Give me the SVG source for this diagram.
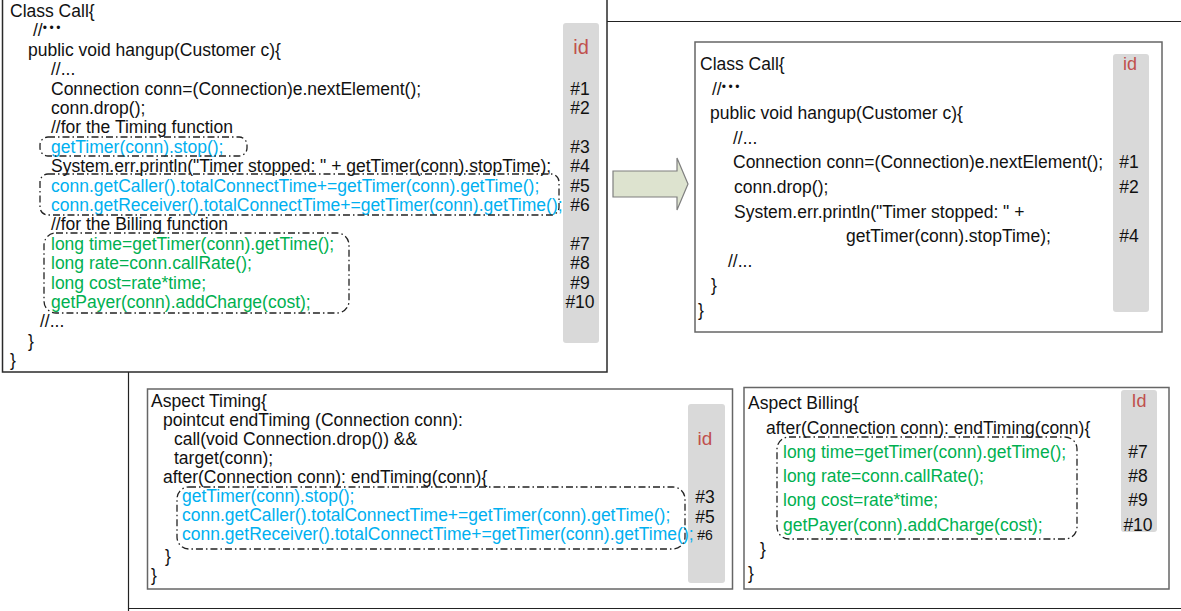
<svg xmlns="http://www.w3.org/2000/svg" width="1181" height="611" viewBox="0 0 1181 611">
  <style>
    text { font-family: "Liberation Sans", Arial, sans-serif; font-size: 17.5px; fill: #111; }
    .blue { fill: #00b0f0; }
    .green { fill: #00b050; }
    .num { text-anchor: middle; }
    .idlbl { fill: #c0504d; text-anchor: middle; }
    .idcol { fill: #d9d9d9; }
    .dots { font-size: 12px; letter-spacing: 2.5px; }
    .frame { fill: none; stroke: #222; stroke-width: 1.2; }
    .box { fill: #fff; stroke: #666; stroke-width: 1.5; }
    .mainbox { fill: #fff; stroke: #2a2a2a; stroke-width: 1.5; }
    .group { fill: none; stroke: #222; stroke-width: 1.3; stroke-dasharray: 7 3 1.5 3; }
  </style>

  <rect width="1181" height="611" fill="#fff"/>

  <!-- frame lines around the panels -->
  <g id="frame">
    <line class="frame" x1="607" y1="21.5" x2="1181" y2="21.5"/>
    <line class="frame" x1="128.5" y1="372" x2="128.5" y2="611"/>
    <line class="frame" x1="128" y1="608.5" x2="1181" y2="608.5"/>
  </g>

  <!-- original Call class with scattered concerns -->
  <g id="call-original">
    <rect class="mainbox" x="2.5" y="-2" width="604.5" height="374"/>
    <rect class="idcol" x="563" y="23" width="36" height="320" rx="3"/>
    <text class="idlbl" x="581" y="54" style="font-size:20px">id</text>
    <text x="10" y="17">Class Call{</text>
    <text x="33" y="36.4">//<tspan class="dots" dy="-4">•••</tspan></text>
    <text x="28" y="55.8">public void hangup(Customer c){</text>
    <text x="51" y="75.2">//...</text>
    <text x="51" y="94.6">Connection conn=(Connection)e.nextElement();</text>
    <text x="51" y="114">conn.drop();</text>
    <text x="51" y="133.4">//for the Timing function</text>
    <text class="blue" x="51" y="152.8">getTimer(conn).stop();</text>
    <text x="51" y="172.2">System.err.println("Timer stopped: " + getTimer(conn).stopTime);</text>
    <text class="blue" x="51" y="191.6">conn.getCaller().totalConnectTime+=getTimer(conn).getTime();</text>
    <text class="blue" x="51" y="211">conn.getReceiver().totalConnectTime+=getTimer(conn).getTime();</text>
    <text x="51" y="230.4">//for the Billing function</text>
    <text class="green" x="51" y="249.8">long time=getTimer(conn).getTime();</text>
    <text class="green" x="51" y="269.2">long rate=conn.callRate();</text>
    <text class="green" x="51" y="288.6">long cost=rate*time;</text>
    <text class="green" x="51" y="308">getPayer(conn).addCharge(cost);</text>
    <text x="40" y="327.4">//...</text>
    <text x="28" y="346.8">}</text>
    <text x="10" y="366.2">}</text>
    <text class="num" x="580" y="94.6">#1</text>
    <text class="num" x="580" y="114">#2</text>
    <text class="num" x="580" y="152.8">#3</text>
    <text class="num" x="580" y="172.2">#4</text>
    <text class="num" x="580" y="191.6">#5</text>
    <text class="num" x="580" y="211">#6</text>
    <text class="num" x="580" y="249.8">#7</text>
    <text class="num" x="580" y="269.2">#8</text>
    <text class="num" x="580" y="288.6">#9</text>
    <text class="num" x="580" y="308">#10</text>
    <rect class="group" x="40" y="137" width="207" height="19" rx="8"/>
    <rect class="group" x="40" y="174" width="519" height="41" rx="8"/>
    <rect class="group" x="44" y="233" width="305" height="80" rx="12"/>
  </g>

  <!-- transformation arrow -->
  <g id="connectors">
    <polygon points="613,171 677,171 677,158 688,184 677,210 677,197 613,197" fill="#dde3cf" stroke="#7f7f7f" stroke-width="1.2"/>
  </g>

  <!-- Call class after extracting the aspects -->
  <g id="call-refactored">
    <rect class="box" x="695" y="42" width="467" height="290"/>
    <rect class="idcol" x="1113" y="54" width="36" height="258" rx="3"/>
    <text class="idlbl" x="1130" y="70" style="font-size:18px">id</text>
    <text x="700" y="70">Class Call{</text>
    <text x="712" y="94.6">//<tspan class="dots" dy="-4">•••</tspan></text>
    <text x="710" y="119.2">public void hangup(Customer c){</text>
    <text x="733" y="143.8">//...</text>
    <text x="733" y="168.4">Connection conn=(Connection)e.nextElement();</text>
    <text x="734" y="193">conn.drop();</text>
    <text x="734" y="217.6">System.err.println("Timer stopped: " +</text>
    <text x="846" y="242.2">getTimer(conn).stopTime);</text>
    <text x="728" y="266.8">//...</text>
    <text x="711" y="291.4">}</text>
    <text x="698" y="316">}</text>
    <text class="num" x="1129" y="168.4">#1</text>
    <text class="num" x="1129" y="193">#2</text>
    <text class="num" x="1129" y="242.2">#4</text>
  </g>

  <!-- Timing aspect -->
  <g id="aspect-timing">
    <rect class="box" x="147.5" y="389" width="585" height="200"/>
    <rect class="idcol" x="688" y="404" width="37" height="179" rx="3"/>
    <text class="idlbl" x="705" y="445" style="font-size:19px">id</text>
    <text x="151" y="407">Aspect Timing{</text>
    <text x="163" y="426">pointcut endTiming (Connection conn):</text>
    <text x="174" y="445">call(void Connection.drop()) &amp;&amp;</text>
    <text x="174" y="464">target(conn);</text>
    <text x="163" y="483">after(Connection conn): endTiming(conn){</text>
    <text class="blue" x="182" y="502">getTimer(conn).stop();</text>
    <text class="blue" x="182" y="521">conn.getCaller().totalConnectTime+=getTimer(conn).getTime();</text>
    <text class="blue" x="182" y="540">conn.getReceiver().totalConnectTime+=getTimer(conn).getTime();</text>
    <text x="165" y="562">}</text>
    <text x="151" y="581">}</text>
    <text class="num" x="705" y="503">#3</text>
    <text class="num" x="705" y="523">#5</text>
    <text class="num" x="705" y="540" style="font-size:14px">#6</text>
    <rect class="group" x="177" y="487" width="508" height="62" rx="12"/>
  </g>

  <!-- Billing aspect -->
  <g id="aspect-billing">
    <rect class="box" x="744" y="387.5" width="425" height="201.5"/>
    <rect class="idcol" x="1121" y="390" width="36" height="142" rx="3"/>
    <text class="idlbl" x="1139" y="407" style="font-size:18px">Id</text>
    <text x="748" y="409">Aspect Billing{</text>
    <text x="766" y="434">after(Connection conn): endTiming(conn){</text>
    <text class="green" x="783" y="458">long time=getTimer(conn).getTime();</text>
    <text class="green" x="783" y="482">long rate=conn.callRate();</text>
    <text class="green" x="783" y="506">long cost=rate*time;</text>
    <text class="green" x="783" y="531">getPayer(conn).addCharge(cost);</text>
    <text x="760" y="555">}</text>
    <text x="748" y="579">}</text>
    <text class="num" x="1138" y="458">#7</text>
    <text class="num" x="1138" y="482">#8</text>
    <text class="num" x="1138" y="506">#9</text>
    <text class="num" x="1138" y="531">#10</text>
    <rect class="group" x="777" y="437" width="300" height="102" rx="12"/>
  </g>
</svg>
